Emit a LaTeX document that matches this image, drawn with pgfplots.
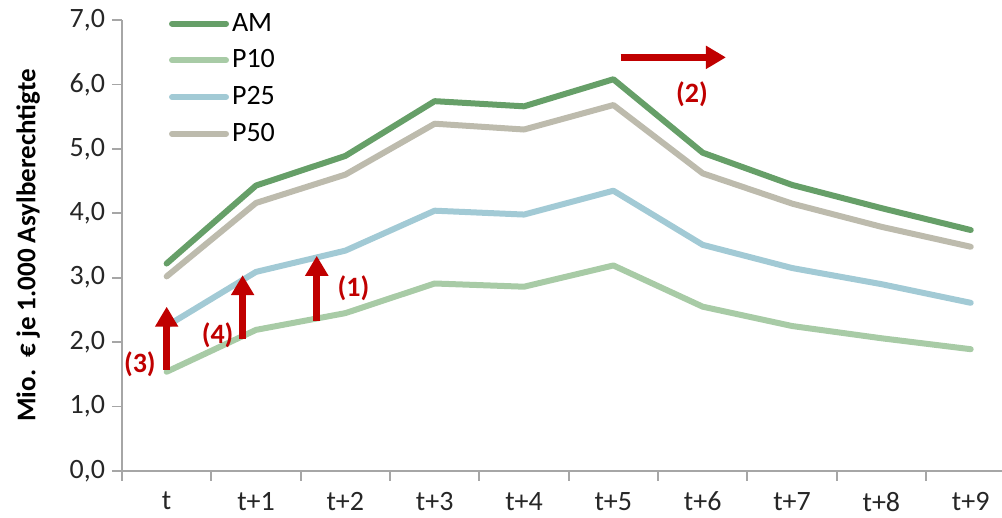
\documentclass[border=0pt]{standalone}
\usepackage{pgfplots}
\pgfplotsset{compat=1.18}
\usepackage{fontspec}
\setmainfont{Carlito}
\usetikzlibrary{arrows.meta}
\definecolor{amc}{HTML}{669F68}
\definecolor{p10c}{HTML}{A8CBA6}
\definecolor{p25c}{HTML}{A2CAD5}
\definecolor{p50c}{HTML}{BDBBAD}
\definecolor{arr}{HTML}{C00000}
\definecolor{axc}{HTML}{A6A6A6}
\begin{document}
\begin{tikzpicture}
\begin{axis}[
  scale only axis,
  width=440pt, height=225.5pt,
  xmin=-0.5, xmax=9.35,
  ymin=0, ymax=7,
  axis x line*=bottom, axis y line*=left,
  axis line style={axc, line width=0.9pt, -},
  xtick={0,...,9},
  xticklabels={t,t+1,t+2,t+3,t+4,t+5,t+6,t+7,t+8,t+9},
  minor xtick={-0.5,0.5,...,8.5},
  major x tick style={draw=none},
  minor x tick style={axc, line width=0.9pt},
  minor tick length=5pt,
  xtick pos=bottom,
  x tick label style={yshift=-2pt},
  ytick={0,1,...,7},
  ytick style={axc, line width=0.9pt},
  major tick length=5pt,
  ytick pos=left,
  tick align=outside,
  yticklabel={\pgfmathprintnumber[fixed, fixed zerofill, precision=1, use comma]{\tick}},
  /pgf/number format/assume math mode=true,
  tick label style={font=\fontsize{14}{16}\selectfont, text=black!85},
  ylabel={\textbf{Mio.\ \ € je 1.000 Asylberechtigte}},
  ylabel style={font=\fontsize{13.5}{16}\selectfont, yshift=8pt},
  legend style={at={(0.053,1.025)}, anchor=north west, draw=none, fill=none,
    font=\fontsize{14}{16}\selectfont, row sep=3.8pt, inner sep=0pt,
    nodes={inner xsep=1.5pt}},
  legend cell align=left,
  legend image code/.code={\draw[#1, line cap=round] (0pt,0pt) -- (27pt,0pt);},
  clip=false,
]
\addplot[amc, line width=3pt, line join=round, line cap=round] coordinates {
 (0,3.22) (1,4.43) (2,4.89) (3,5.74) (4,5.66) (5,6.08) (6,4.94) (7,4.44) (8,4.08) (9,3.74)};
\addlegendentry{AM}
\addplot[p10c, line width=3pt, line join=round, line cap=round] coordinates {
 (0,1.54) (1,2.19) (2,2.45) (3,2.91) (4,2.86) (5,3.19) (6,2.55) (7,2.25) (8,2.06) (9,1.89)};
\addlegendentry{P10}
\addplot[p25c, line width=3pt, line join=round, line cap=round] coordinates {
 (0,2.25) (1,3.09) (2,3.42) (3,4.04) (4,3.98) (5,4.35) (6,3.51) (7,3.15) (8,2.90) (9,2.61)};
\addlegendentry{P25}
\addplot[p50c, line width=3pt, line join=round, line cap=round] coordinates {
 (0,3.02) (1,4.16) (2,4.60) (3,5.39) (4,5.30) (5,5.68) (6,4.62) (7,4.15) (8,3.79) (9,3.48)};
\addlegendentry{P50}
% arrows
\draw[arr, line width=3.6pt, -{Triangle[length=10pt,width=11pt]}] (axis cs:0,1.57) -- (axis cs:0,2.55);
\draw[arr, line width=3.6pt, -{Triangle[length=10pt,width=11pt]}] (axis cs:0.85,2.05) -- (axis cs:0.85,3.04);
\draw[arr, line width=3.6pt, -{Triangle[length=10pt,width=11pt]}] (axis cs:1.68,2.33) -- (axis cs:1.68,3.34);
\draw[arr, line width=3.6pt, -{Triangle[length=10pt,width=11pt]}] (axis cs:5.08,6.42) -- (axis cs:6.26,6.42);
\node[text=arr, font=\bfseries\fontsize{14}{16}\selectfont] at (axis cs:2.09,2.84) {(1)};
\node[text=arr, font=\bfseries\fontsize{14}{16}\selectfont] at (axis cs:5.88,5.84) {(2)};
\node[text=arr, font=\bfseries\fontsize{14}{16}\selectfont] at (axis cs:-0.30,1.65) {(3)};
\node[text=arr, font=\bfseries\fontsize{14}{16}\selectfont] at (axis cs:0.57,2.10) {(4)};
\end{axis}
\pgfresetboundingbox
\path ([shift={(-61pt,-23.5pt)}]current axis.south west) rectangle ([shift={(0pt,10pt)}]current axis.north east);
\end{tikzpicture}
\end{document}
